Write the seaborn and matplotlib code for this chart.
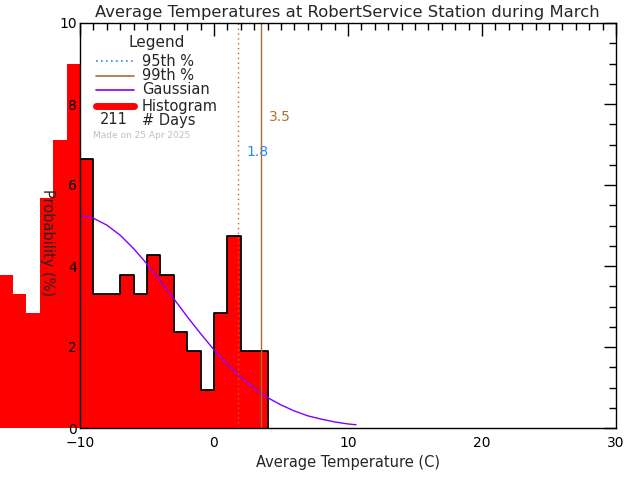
import numpy as np
import pandas as pd
import matplotlib
matplotlib.use("Agg")
import matplotlib.pyplot as plt
import seaborn as sns
from matplotlib.lines import Line2D
from matplotlib.ticker import MultipleLocator, FuncFormatter

# ---- data ----
bin_left = [-16, -15, -14, -13, -12, -11, -10, -9, -8, -7, -6, -5, -4, -3, -2, -1, 0, 1, 2, 3]
prob_pct = [3.79, 3.32, 2.84, 5.69, 7.11, 9.00, 6.64, 3.32, 3.32, 3.79, 3.32, 4.27, 3.79,
            2.37, 1.90, 0.95, 2.84, 4.74, 1.90, 1.90]
gauss_x = [-10, -9, -8, -7, -6, -5, -4, -3, -2, -1, 0, 1, 2, 3, 4, 5, 6, 7, 8, 9, 10, 10.6]
gauss_y = [5.25, 5.18, 5.01, 4.76, 4.43, 4.05, 3.63, 3.19, 2.75, 2.33, 1.93, 1.57, 1.25,
           0.98, 0.75, 0.57, 0.42, 0.30, 0.22, 0.15, 0.10, 0.08]
p95 = 1.8
p99 = 3.5
n_days = 211
title = "Average Temperatures at RobertService Station during March"
xlabel = "Average Temperature (C)"
ylabel = "Probability (%)"

RED = "#FF0000"
PURPLE = "#8000FF"
BLUE = "#1E8CFF"
BROWN = "#A0703C"
ORANGE = "#C86414"

sns.set_style("white")
plt.rcParams["font.family"] = ["DejaVu Sans"]
plt.rcParams["axes.axisbelow"] = False

fig = plt.figure(figsize=(6.4, 4.8), dpi=100)
W, H = 640, 480
ax = fig.add_axes([80 / W, 1 - 428 / H, (616 - 80) / W, (428 - 23) / H])
ax.set_axisbelow(False)

df = pd.DataFrame({"center": np.array(bin_left) + 0.5, "w": prob_pct})
edges = list(bin_left) + [bin_left[-1] + 1]
sns.histplot(data=df, x="center", weights="w", bins=edges, ax=ax, color=RED,
             alpha=1, edgecolor="none", linewidth=0, stat="count")
for p in ax.patches:
    p.set_clip_on(False)
    p.set_facecolor(RED)

# outline (step) of bars inside the axes
xs, ys = [-10], [0]
for l, v in zip(bin_left, prob_pct):
    if l >= -10:
        xs += [l, l + 1]
        ys += [v, v]
xs += [xs[-1]]
ys += [0]
ax.plot(xs, ys, color="black", lw=1.3, zorder=3)

sns.lineplot(x=gauss_x, y=gauss_y, ax=ax, color=PURPLE, lw=1.0, zorder=4)

ax.axvline(p95, color=ORANGE, lw=1.0, ls=(0, (1, 2.5)), zorder=5)
ax.axvline(p99, color=BROWN, lw=1.0, zorder=5)
ax.text(2.4, 6.81, f"{p95:.1f}", color=BLUE, fontsize=10, ha="left", va="center")
ax.text(4.1, 7.68, f"{p99:.1f}", color="#B0702A", fontsize=10, ha="left", va="center")

ax.set_xlim(-10, 30)
ax.set_ylim(0, 10)
ax.set_xlabel("")
ax.set_ylabel("")
ax.xaxis.set_major_locator(MultipleLocator(10))
ax.xaxis.set_minor_locator(MultipleLocator(1))
ax.yaxis.set_major_locator(MultipleLocator(2))
ax.yaxis.set_minor_locator(MultipleLocator(0.5))
ax.yaxis.set_major_formatter(FuncFormatter(lambda v, p: f"{v:.0f}"))
ax.xaxis.set_major_formatter(FuncFormatter(lambda v, p: f"{v:.0f}".replace("-", "\u2212")))
ax.tick_params(which="both", direction="in", top=True, right=True, colors="black",
               labelsize=10)
ax.tick_params(which="major", length=9, width=1)
ax.tick_params(which="minor", length=5, width=1)
ax.tick_params(axis="x", pad=6)
ax.tick_params(axis="y", pad=2)
for s in ax.spines.values():
    s.set_color("black")
    s.set_linewidth(1)
    s.set_zorder(6)

def ft(x, y, s, **kw):
    fig.text(x / W, 1 - y / H, s, **kw)

ft(347, 12, title, fontsize=11.8, ha="center", va="center")
ft(348, 463, xlabel, fontsize=10.5, ha="center", va="center")
ft(47, 243, ylabel, fontsize=10.5, ha="center", va="center", rotation=-90)

# legend
ft(157, 43, "Legend", fontsize=11, ha="center", va="center")
leg_rows = [(61, "95th %", dict(color=BLUE, lw=1.2, ls=(0, (1, 2)))),
            (76, "99th %", dict(color=BROWN, lw=1.2)),
            (90, "Gaussian", dict(color=PURPLE, lw=1.2)),
            (106, "Histogram", dict(color=RED, lw=5))]
for y, lab, st in leg_rows:
    fig.add_artist(Line2D([96 / W, 134 / W], [1 - y / H, 1 - y / H], **st))
    ft(142, y, lab, fontsize=10.5, ha="left", va="center")
ft(100, 120, str(n_days), fontsize=10.5, ha="left", va="center")
ft(142, 120, "# Days", fontsize=10.5, ha="left", va="center")
ft(93, 136, "Made on 25 Apr 2025", fontsize=6.5, color="#C0C0C0", ha="left", va="center")

fig.savefig("out.png", dpi=100)
